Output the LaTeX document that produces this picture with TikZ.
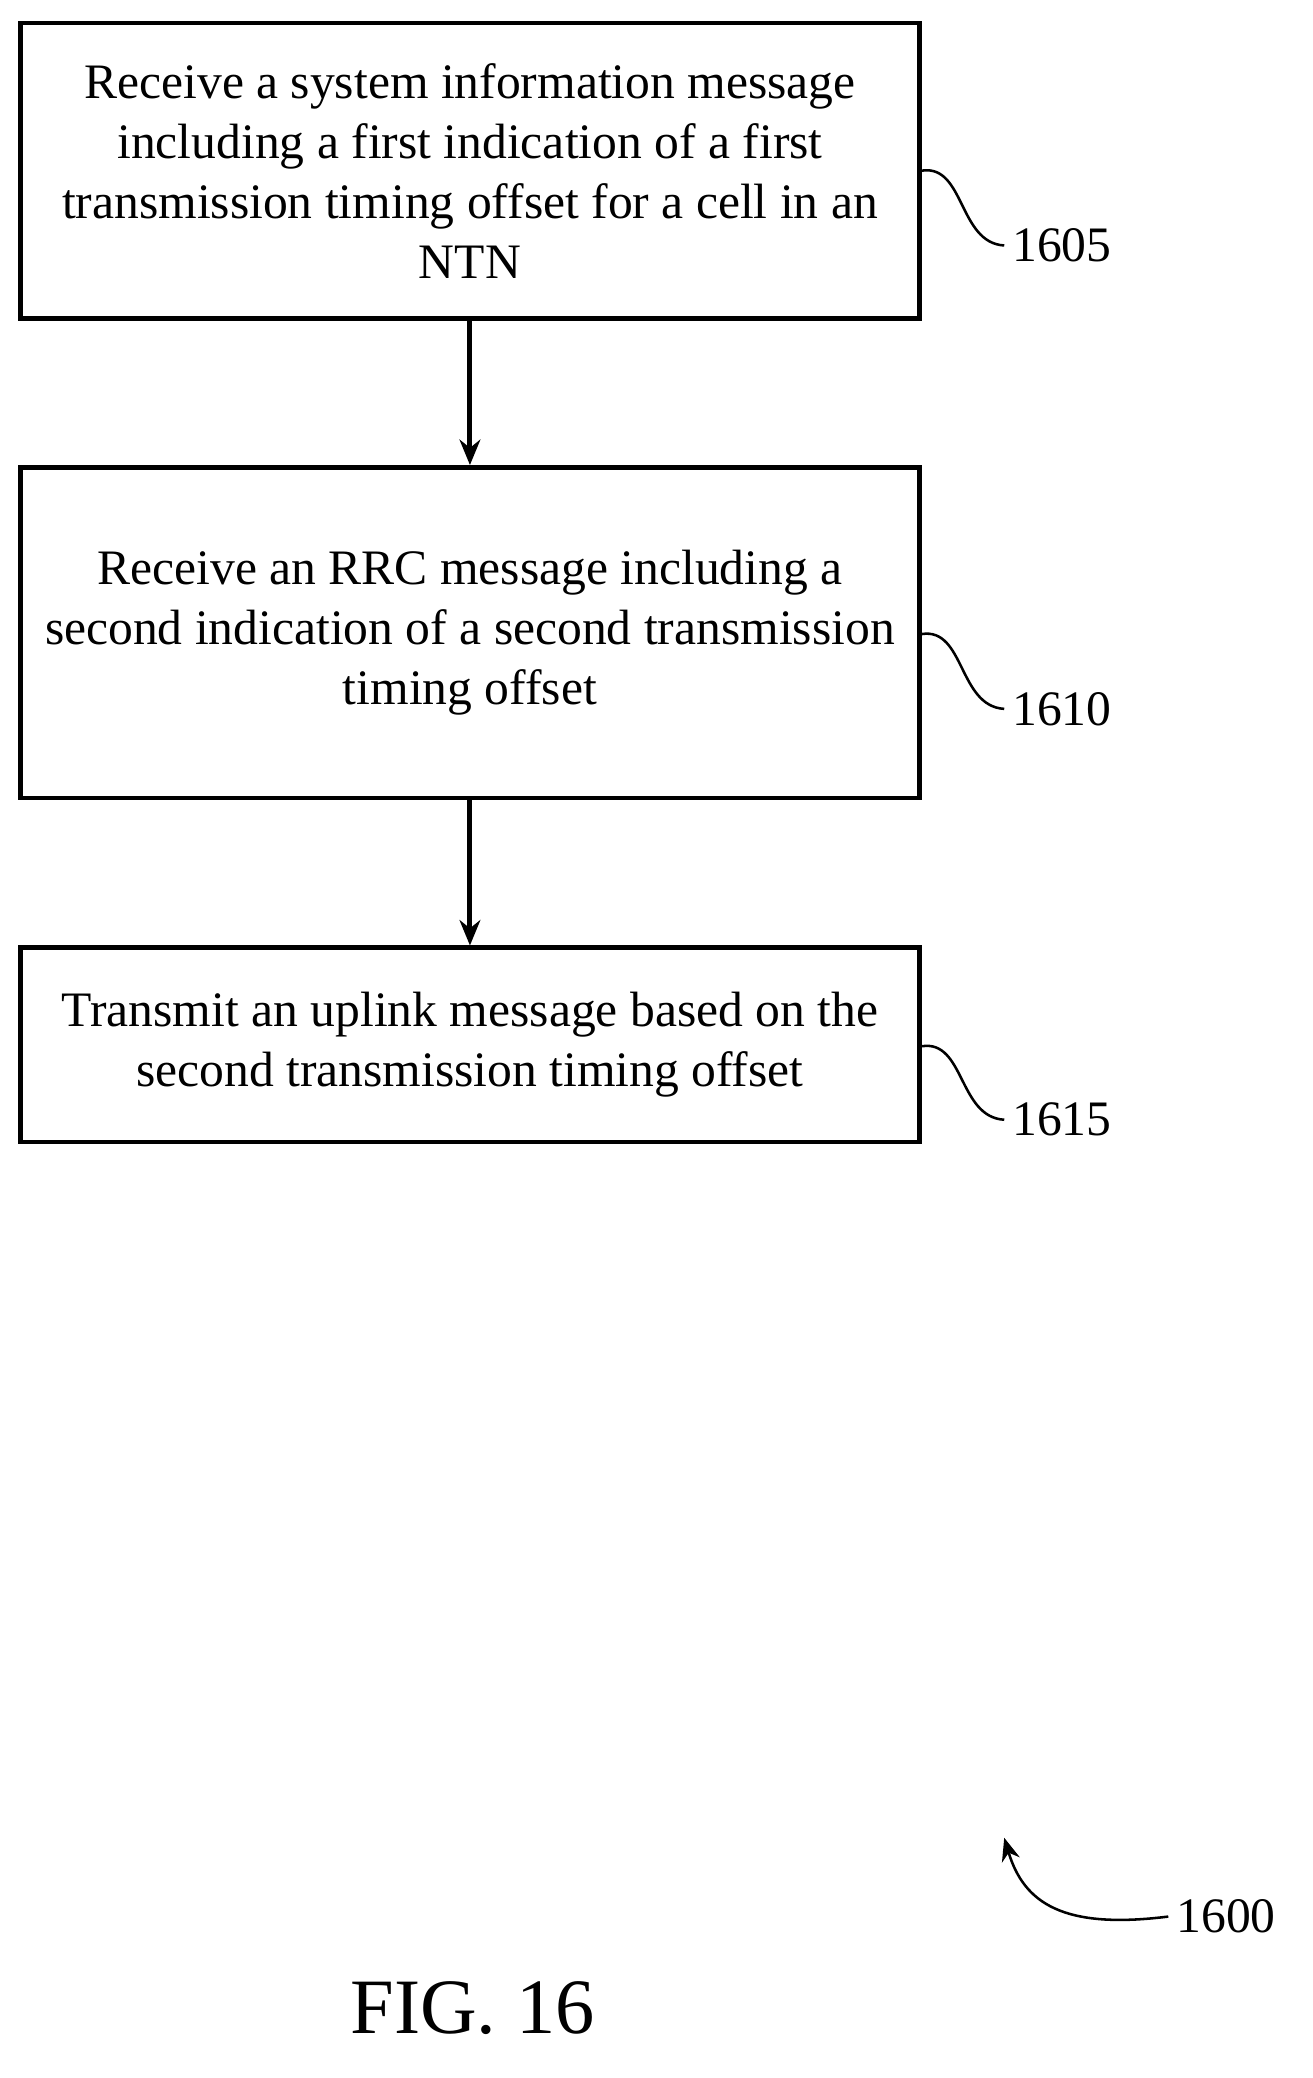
\documentclass[tikz,border=0pt]{standalone}
\usepackage{fontspec}
\setmainfont{Liberation Serif}
\usetikzlibrary{arrows.meta,positioning}
\tikzset{
  stage/.style={draw, line width=2pt, minimum width=13.7cm, align=center,
    font=\fontsize{21.5}{26}\selectfont, inner sep=0pt},
  flow/.style={line width=2.2pt, -{Stealth[length=11pt,width=9pt]}},
  tag/.style={font=\fontsize{21.5}{26}\selectfont, anchor=west},
  lead/.style={line width=1.1pt}
}
\begin{document}
\begin{tikzpicture}
	  \useasboundingbox (0,0) rectangle (20,-31.66);

	  \node [ stage, minimum height=4.5cm ] (s1605) at (7.16,-2.6)
	    { Receive a system information message\\ including a first indication of a first\\ transmission timing offset for a cell in an\\ NTN };
	  \node [ stage, minimum height=5.04cm ] (s1610) at (7.16,-9.64)
	    { Receive an RRC message including a\\ second indication of a second transmission\\ timing offset };
	  \node [ stage, minimum height=2.96cm ] (s1615) at (7.16,-15.92)
	    { Transmit an uplink message based on the\\ second transmission timing offset };

	  \draw [ flow ] (s1605) -- (s1610);
	  \draw [ flow ] (s1610) -- (s1615);

	  % reference numerals
	  \node [ tag ] (n1605) at (15.3,-3.74) {1605};
	  \node [ tag ] (n1610) at (15.3,-10.8) {1610};
	  \node [ tag ] (n1615) at (15.3,-17.06) {1615};
	  \draw [ lead ] (s1605.east |- 0,-2.6) .. controls (14.7,-2.5) and (14.6,-3.7) .. (n1605.west);
	  \draw [ lead ] (s1610.east |- 0,-9.66) .. controls (14.7,-9.56) and (14.6,-10.76) .. (n1610.west);
	  \draw [ lead ] (s1615.east |- 0,-15.94) .. controls (14.7,-15.84) and (14.6,-17.02) .. (n1615.west);

	  \node [ tag ] (n1600) at (17.8,-29.2) {1600};
	  \coordinate (tip1600) at (15.3,-28.0);
	  \draw [ lead, -{Stealth[length=10pt,width=8pt]} ] (n1600.west) .. controls (16.2,-29.4) and (15.6,-29.0) .. (tip1600);

	  \node [ font=\fontsize{34}{40}\selectfont ] (fig) at (7.2,-30.6) {FIG. 16};
	\end{tikzpicture}
\end{document}
